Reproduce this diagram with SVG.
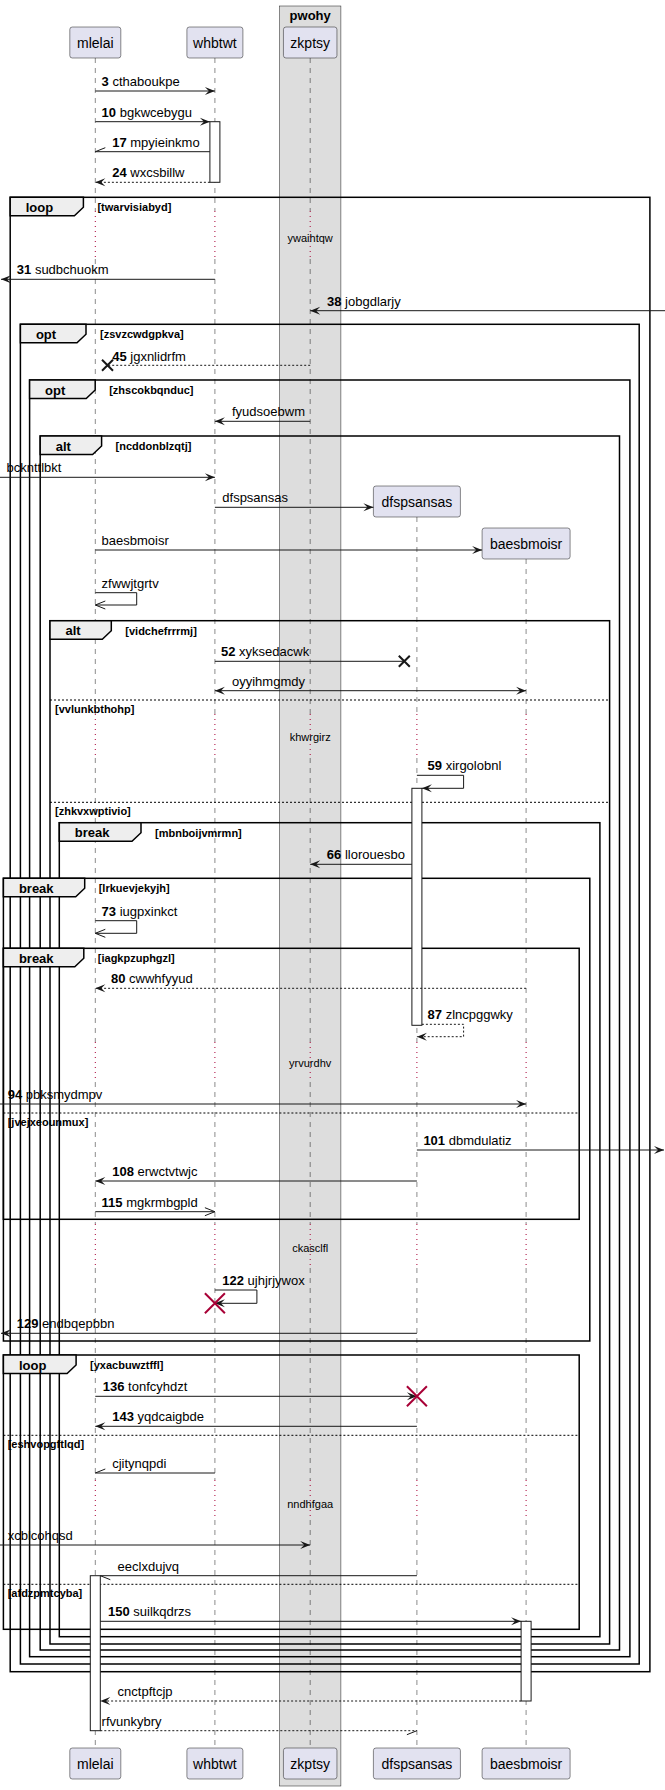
<svg xmlns="http://www.w3.org/2000/svg" width="665" height="1790" viewBox="0 0 665 1790">
<defs>
<style>
text{font-family:"Liberation Sans",Arial,sans-serif;fill:#000}
.pt{font-size:14px}
.m{font-size:13px}
.n{font-weight:bold}
.fl{font-size:13px;font-weight:bold}
.cd{font-size:11px;font-weight:bold}
.dt{font-size:11px}
.box{fill:#DDDDDD;stroke:#181818;stroke-width:0.5}
.part{fill:#E2E2F0;stroke:#181818;stroke-width:0.5}
.ll{stroke:#181818;stroke-width:0.5;stroke-dasharray:5,5;fill:none}
.dl{stroke:#A80036;stroke-width:1;stroke-dasharray:1,4;fill:none}
.ln{stroke:#181818;stroke-width:1;fill:none}
.da{stroke-dasharray:2,2}
.fr{fill:none;stroke:#000;stroke-width:1.5}
.tab{fill:#EEEEEE;stroke:#000;stroke-width:1.5}
.sep{stroke:#000;stroke-width:1;stroke-dasharray:2,2}
.act{fill:#fff;stroke:#181818;stroke-width:1}
.x{stroke:#181818;stroke-width:2;fill:none}
.rx{stroke:#A80036;stroke-width:2;fill:none}
</style>
<marker id="af" markerUnits="userSpaceOnUse" viewBox="0 0 10 8" markerWidth="10" markerHeight="8" refX="10" refY="4" orient="auto-start-reverse" overflow="visible"><path d="M0,0 L10,4 L0,8 L4,4 Z" fill="#181818"/></marker>
<marker id="ao" markerUnits="userSpaceOnUse" viewBox="0 0 10 8" markerWidth="10" markerHeight="8" refX="10" refY="4" orient="auto" overflow="visible"><path d="M0,0 L10,4 L0,8" fill="none" stroke="#181818" stroke-width="1"/></marker>
<marker id="hu" markerUnits="userSpaceOnUse" viewBox="0 0 10 8" markerWidth="10" markerHeight="8" refX="10" refY="4" orient="auto" overflow="visible"><path d="M0,0 L10,4" fill="none" stroke="#181818" stroke-width="1"/></marker>
<marker id="hd" markerUnits="userSpaceOnUse" viewBox="0 0 10 8" markerWidth="10" markerHeight="8" refX="10" refY="4" orient="auto" overflow="visible"><path d="M0,8 L10,4" fill="none" stroke="#181818" stroke-width="1"/></marker>
</defs>
<rect width="665" height="1790" fill="#fff"/>
<g id="box-pwohy">
<rect class="box" x="279.6" y="6" width="61.3" height="1780"/>
<text class="fl" x="310.2" y="19.5" text-anchor="middle">pwohy</text>
</g>
<g id="lifelines">
<path class="ll" d="M95.3,58V211M95.3,259V714M95.3,758V1042M95.3,1082V1224M95.3,1268V1480M95.3,1520V1748"/>
<path class="dl" d="M95.3,211V259M95.3,714V758M95.3,1042V1082M95.3,1224V1268M95.3,1480V1520"/>
<path class="ll" d="M214.9,58V211M214.9,259V714M214.9,758V1042M214.9,1082V1224M214.9,1268V1480M214.9,1520V1748"/>
<path class="dl" d="M214.9,211V259M214.9,714V758M214.9,1042V1082M214.9,1224V1268M214.9,1480V1520"/>
<path class="ll" d="M310.2,58V211M310.2,259V714M310.2,758V1042M310.2,1082V1224M310.2,1268V1480M310.2,1520V1748"/>
<path class="dl" d="M310.2,211V259M310.2,714V758M310.2,1042V1082M310.2,1224V1268M310.2,1480V1520"/>
<path class="ll" d="M416.9,517V714M416.9,758V1042M416.9,1082V1224M416.9,1268V1480M416.9,1520V1748"/>
<path class="dl" d="M416.9,714V758M416.9,1042V1082M416.9,1224V1268M416.9,1480V1520"/>
<path class="ll" d="M526.1,559V714M526.1,758V1042M526.1,1082V1224M526.1,1268V1480M526.1,1520V1748"/>
<path class="dl" d="M526.1,714V758M526.1,1042V1082M526.1,1224V1268M526.1,1480V1520"/>
</g>
<g id="p-mlelai">
<rect class="part" x="69.8" y="27" width="51" height="31" rx="2.5"/>
<text class="pt" x="95.3" y="47.5" text-anchor="middle">mlelai</text>
<rect class="part" x="69.8" y="1748" width="51" height="31" rx="2.5"/>
<text class="pt" x="95.3" y="1768.5" text-anchor="middle">mlelai</text>
</g>
<g id="p-whbtwt">
<rect class="part" x="186.9" y="27" width="56" height="31" rx="2.5"/>
<text class="pt" x="214.9" y="47.5" text-anchor="middle">whbtwt</text>
<rect class="part" x="186.9" y="1748" width="56" height="31" rx="2.5"/>
<text class="pt" x="214.9" y="1768.5" text-anchor="middle">whbtwt</text>
</g>
<g id="p-zkptsy">
<rect class="part" x="283.45" y="27" width="53.5" height="31" rx="2.5"/>
<text class="pt" x="310.2" y="47.5" text-anchor="middle">zkptsy</text>
<rect class="part" x="283.45" y="1748" width="53.5" height="31" rx="2.5"/>
<text class="pt" x="310.2" y="1768.5" text-anchor="middle">zkptsy</text>
</g>
<g id="p-dfspsansas">
<rect class="part" x="373.4" y="486" width="87" height="31" rx="2.5"/>
<text class="pt" x="416.9" y="506.5" text-anchor="middle">dfspsansas</text>
<rect class="part" x="373.4" y="1748" width="87" height="31" rx="2.5"/>
<text class="pt" x="416.9" y="1768.5" text-anchor="middle">dfspsansas</text>
</g>
<g id="p-baesbmoisr">
<rect class="part" x="482.1" y="528" width="88" height="31" rx="2.5"/>
<text class="pt" x="526.1" y="548.5" text-anchor="middle">baesbmoisr</text>
<rect class="part" x="482.1" y="1748" width="88" height="31" rx="2.5"/>
<text class="pt" x="526.1" y="1768.5" text-anchor="middle">baesbmoisr</text>
</g>
<g id="frames">
<g id="f-twarvisiabyd">
<rect class="fr" x="10.2" y="197.3" width="639.7" height="1474.4"/>
<path class="tab" d="M10.2,197.3H83.4V207.3L74.4,215.8H10.2Z"/>
<text class="fl" x="25.7" y="211.8">loop</text>
<text class="cd" x="97.4" y="211.3">[twarvisiabyd]</text>
</g>
<g id="f-zsvzcwdgpkva">
<rect class="fr" x="20.4" y="324.3" width="618.8" height="1339.7"/>
<path class="tab" d="M20.4,324.3H86V334.3L77,342.8H20.4Z"/>
<text class="fl" x="35.9" y="338.8">opt</text>
<text class="cd" x="100" y="338.3">[zsvzcwdgpkva]</text>
</g>
<g id="f-zhscokbqnduc">
<rect class="fr" x="29.6" y="380" width="600.3" height="1276.7"/>
<path class="tab" d="M29.6,380H95.2V390L86.2,398.5H29.6Z"/>
<text class="fl" x="45.1" y="394.5">opt</text>
<text class="cd" x="109.2" y="394">[zhscokbqnduc]</text>
</g>
<g id="f-ncddonblzqtj">
<rect class="fr" x="40.2" y="436" width="579.3" height="1214"/>
<path class="tab" d="M40.2,436H101.6V446L92.6,454.5H40.2Z"/>
<text class="fl" x="55.7" y="450.5">alt</text>
<text class="cd" x="115.6" y="450">[ncddonblzqtj]</text>
</g>
<g id="f-vidchefrrrmj">
<rect class="fr" x="50" y="620.7" width="559.6" height="1023.3"/>
<path class="tab" d="M50,620.7H111.3V630.7L102.3,639.2H50Z"/>
<text class="fl" x="65.5" y="635.2">alt</text>
<text class="cd" x="125.3" y="634.7">[vidchefrrrmj]</text>
<line class="sep" x1="50" y1="700" x2="609.6" y2="700"/>
<text class="cd" x="55" y="713">[vvlunkbthohp]</text>
<line class="sep" x1="50" y1="802.3" x2="609.6" y2="802.3"/>
<text class="cd" x="55" y="815">[zhkvxwptivio]</text>
</g>
<g id="f-mbnboijvmrmn">
<rect class="fr" x="59.3" y="822.7" width="540.6" height="814"/>
<path class="tab" d="M59.3,822.7H141V832.7L132,841.2H59.3Z"/>
<text class="fl" x="74.8" y="837.2">break</text>
<text class="cd" x="155" y="836.7">[mbnboijvmrmn]</text>
</g>
<g id="f-lrkuevjekyjh">
<rect class="fr" x="3.4" y="878.3" width="586.4" height="462.7"/>
<path class="tab" d="M3.4,878.3H84.7V888.3L75.7,896.8H3.4Z"/>
<text class="fl" x="18.9" y="892.8">break</text>
<text class="cd" x="98.7" y="892.3">[lrkuevjekyjh]</text>
</g>
<g id="f-iagkpzuphgzl">
<rect class="fr" x="3.4" y="948.3" width="575.8" height="271"/>
<path class="tab" d="M3.4,948.3H83.8V958.3L74.8,966.8H3.4Z"/>
<text class="fl" x="18.9" y="962.8">break</text>
<text class="cd" x="97.8" y="962.3">[iagkpzuphgzl]</text>
<line class="sep" x1="3.4" y1="1113" x2="579.2" y2="1113"/>
<text class="cd" x="7.7" y="1125.5">[jvejxeounmux]</text>
</g>
<g id="f-yxacbuwztffl">
<rect class="fr" x="3.4" y="1355" width="575.8" height="274.3"/>
<path class="tab" d="M3.4,1355H76.1V1365L67.1,1373.5H3.4Z"/>
<text class="fl" x="18.9" y="1369.5">loop</text>
<text class="cd" x="90.1" y="1369">[yxacbuwztffl]</text>
<line class="sep" x1="3.4" y1="1435.3" x2="579.2" y2="1435.3"/>
<text class="cd" x="7.7" y="1448">[eshvopgftlqd]</text>
<line class="sep" x1="3.4" y1="1584.3" x2="579.2" y2="1584.3"/>
<text class="cd" x="7.7" y="1597">[afdzpmtcyba]</text>
</g>
</g>
<g id="delays">
<text class="dt" x="310.2" y="241.7" text-anchor="middle">ywaihtqw</text>
<text class="dt" x="310.2" y="741.3" text-anchor="middle">khwrgirz</text>
<text class="dt" x="310.2" y="1067.3" text-anchor="middle">yrvurdhv</text>
<text class="dt" x="310.2" y="1252.3" text-anchor="middle">ckasclfl</text>
<text class="dt" x="310.2" y="1508" text-anchor="middle">nndhfgaa</text>
</g>
<g id="activations">
<rect class="act" x="209.9" y="121.7" width="10" height="60.6"/>
<rect class="act" x="411.9" y="788.3" width="10" height="237"/>
<rect class="act" x="90.3" y="1575.7" width="10" height="155"/>
<rect class="act" x="521.1" y="1621.3" width="10" height="79.7"/>
</g>
<g id="connectors">
<line class="ln" x1="95.3" y1="91" x2="214.9" y2="91" marker-end="url(#af)"/>
<text class="m" x="101.6" y="86"><tspan class="n">3</tspan> cthaboukpe</text>
<line class="ln" x1="95.3" y1="121.7" x2="209.9" y2="121.7" marker-end="url(#af)"/>
<text class="m" x="101.6" y="116.7"><tspan class="n">10</tspan> bgkwcebygu</text>
<line class="ln" x1="209.9" y1="151.7" x2="95.3" y2="151.7" marker-end="url(#hd)"/>
<text class="m" x="112.2" y="146.7"><tspan class="n">17</tspan> mpyieinkmo</text>
<line class="ln da" x1="209.9" y1="182.3" x2="95.3" y2="182.3" marker-end="url(#af)"/>
<text class="m" x="112.2" y="177.3"><tspan class="n">24</tspan> wxcsbillw</text>
<line class="ln" x1="214.9" y1="279.3" x2="1" y2="279.3" marker-end="url(#af)"/>
<text class="m" x="16.8" y="274.3"><tspan class="n">31</tspan> sudbchuokm</text>
<line class="ln" x1="665" y1="310.7" x2="310.2" y2="310.7" marker-end="url(#af)"/>
<text class="m" x="327" y="305.7"><tspan class="n">38</tspan> jobgdlarjy</text>
<line class="ln da" x1="310.2" y1="365.3" x2="107.5" y2="365.3"/>
<path class="x" d="M102,359.8L113,370.8M113,359.8L102,370.8"/>
<text class="m" x="112.2" y="360.5"><tspan class="n">45</tspan> jgxnlidrfm</text>
<line class="ln" x1="310.2" y1="421.3" x2="214.9" y2="421.3" marker-end="url(#af)"/>
<text class="m" x="232" y="416.3">fyudsoebwm</text>
<line class="ln" x1="0" y1="477.3" x2="214.9" y2="477.3" marker-end="url(#af)"/>
<text class="m" x="6.5" y="472.3">bcknttlbkt</text>
<line class="ln" x1="214.9" y1="507.3" x2="373.4" y2="507.3" marker-end="url(#af)"/>
<text class="m" x="222.3" y="502.3">dfspsansas</text>
<line class="ln" x1="95.3" y1="550" x2="482.1" y2="550" marker-end="url(#af)"/>
<text class="m" x="101.6" y="545">baesbmoisr</text>
<path class="ln" d="M95.3,592.7H136.7V605H95.3" marker-end="url(#ao)"/>
<text class="m" x="101.6" y="587.7">zfwwjtgrtv</text>
<line class="ln" x1="214.9" y1="661.3" x2="404.3" y2="661.3"/>
<path class="x" d="M398.8,655.8L409.8,666.8M409.8,655.8L398.8,666.8"/>
<text class="m" x="221" y="656.3"><tspan class="n">52</tspan> xyksedacwk</text>
<line class="ln" x1="214.9" y1="690.7" x2="526.1" y2="690.7" marker-start="url(#af)" marker-end="url(#af)"/>
<text class="m" x="232" y="685.7">oyyihmgmdy</text>
<path class="ln" d="M416.9,775.3H463.6V788.3H421.9" marker-end="url(#af)"/>
<text class="m" x="427.6" y="770.3"><tspan class="n">59</tspan> xirgolobnl</text>
<line class="ln" x1="411.9" y1="864.3" x2="310.2" y2="864.3" marker-end="url(#af)"/>
<text class="m" x="326.8" y="859.3"><tspan class="n">66</tspan> llorouesbo</text>
<path class="ln" d="M95.3,920.7H136.7V933.3H95.3" marker-end="url(#ao)"/>
<text class="m" x="101.6" y="915.7"><tspan class="n">73</tspan> iugpxinkct</text>
<line class="ln da" x1="526.1" y1="988.3" x2="95.3" y2="988.3" marker-end="url(#af)"/>
<text class="m" x="111" y="983.3"><tspan class="n">80</tspan> cwwhfyyud</text>
<path class="ln da" d="M421.9,1024.3H463.6V1036.7H416.9" marker-end="url(#af)"/>
<text class="m" x="427.6" y="1019.3"><tspan class="n">87</tspan> zlncpggwky</text>
<line class="ln" x1="0" y1="1104" x2="526.1" y2="1104" marker-end="url(#af)"/>
<text class="m" x="7.7" y="1099"><tspan class="n">94</tspan> pbksmydmpv</text>
<line class="ln" x1="416.9" y1="1150" x2="664" y2="1150" marker-end="url(#af)"/>
<text class="m" x="423.4" y="1145"><tspan class="n">101</tspan> dbmdulatiz</text>
<line class="ln" x1="416.9" y1="1181" x2="95.3" y2="1181" marker-end="url(#af)"/>
<text class="m" x="112.2" y="1176"><tspan class="n">108</tspan> erwctvtwjc</text>
<line class="ln" x1="95.3" y1="1211.7" x2="214.9" y2="1211.7" marker-end="url(#ao)"/>
<text class="m" x="101.6" y="1206.7"><tspan class="n">115</tspan> mgkrmbgpld</text>
<path class="ln" d="M214.9,1290H256.9V1303.3H214.9" marker-end="url(#af)"/>
<path class="rx" d="M204.9,1293.3L224.9,1313.3M224.9,1293.3L204.9,1313.3"/>
<text class="m" x="222.3" y="1285"><tspan class="n">122</tspan> ujhjrjywox</text>
<line class="ln" x1="416.9" y1="1333.3" x2="1" y2="1333.3" marker-end="url(#af)"/>
<text class="m" x="16.8" y="1328.3"><tspan class="n">129</tspan> endbqepbbn</text>
<line class="ln" x1="95.3" y1="1396.3" x2="416.9" y2="1396.3" marker-end="url(#af)"/>
<path class="rx" d="M406.9,1386.3L426.9,1406.3M426.9,1386.3L406.9,1406.3"/>
<text class="m" x="102.8" y="1391.3"><tspan class="n">136</tspan> tonfcyhdzt</text>
<line class="ln" x1="416.9" y1="1426.3" x2="95.3" y2="1426.3" marker-end="url(#af)"/>
<text class="m" x="112.2" y="1421.3"><tspan class="n">143</tspan> yqdcaigbde</text>
<line class="ln" x1="214.9" y1="1473" x2="95.3" y2="1473" marker-end="url(#hd)"/>
<text class="m" x="112.2" y="1468">cjitynqpdi</text>
<line class="ln" x1="0" y1="1545" x2="310.2" y2="1545" marker-end="url(#af)"/>
<text class="m" x="7.7" y="1540">xcblcohqsd</text>
<line class="ln" x1="416.9" y1="1575.7" x2="100.3" y2="1575.7" marker-end="url(#hu)"/>
<text class="m" x="117.6" y="1570.7">eeclxdujvq</text>
<line class="ln" x1="100.3" y1="1621.3" x2="521.1" y2="1621.3" marker-end="url(#af)"/>
<text class="m" x="108" y="1616.3"><tspan class="n">150</tspan> suilkqdrzs</text>
<line class="ln da" x1="521.1" y1="1701" x2="100.3" y2="1701" marker-end="url(#af)"/>
<text class="m" x="117.6" y="1696">cnctpftcjp</text>
<line class="ln da" x1="100.3" y1="1730.7" x2="416.9" y2="1730.7" marker-end="url(#hd)"/>
<text class="m" x="101.6" y="1725.7">rfvunkybry</text>
</g>
</svg>
